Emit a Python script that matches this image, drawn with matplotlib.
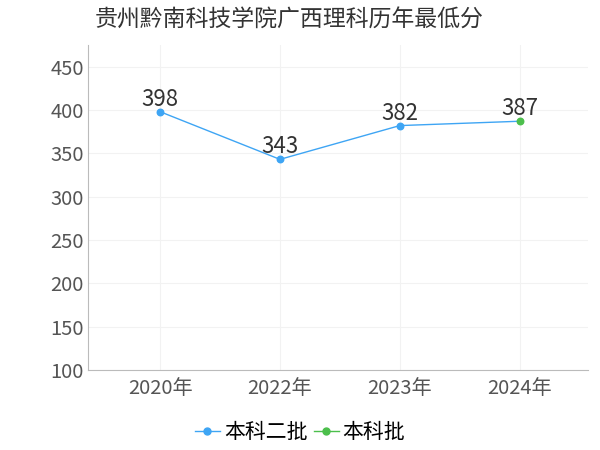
import matplotlib
matplotlib.use("Agg")
import matplotlib.pyplot as plt

plt.rcParams['font.family'] = ['Noto Sans CJK SC', 'DejaVu Sans']

YEARS = ["2020年", "2022年", "2023年", "2024年"]
SCORES = [398, 343, 382, 387]
BATCH = ["本科二批", "本科二批", "本科二批", "本科批"]
COLORS = {"本科二批": "#3ea5f4", "本科批": "#4cbf4c"}

fig = plt.figure(figsize=(6, 4.5), dpi=100)
ax = fig.add_axes([0.147, 0.178, 0.833, 0.722])
x = list(range(len(YEARS)))
ax.plot(x, SCORES, color=COLORS["本科二批"], lw=1, zorder=2)
for xi, s, b in zip(x, SCORES, BATCH):
    ax.scatter(xi, s, color=COLORS[b], s=22, zorder=3)
    ax.text(xi, s + 1, str(s), ha="center", va="bottom", fontsize=16, color="#333333")

ax.set_xlim(-0.6, 3.57)
ax.set_ylim(100, 475)
ax.set_yticks(range(100, 451, 50))
ax.set_xticks(x)
ax.set_xticklabels(YEARS)
ax.tick_params(axis="both", labelsize=14.5, colors="#555555", length=0)
ax.tick_params(axis="x", pad=6)
ax.tick_params(axis="y", pad=3)
ax.grid(True, color="#f2f2f2", lw=0.8)
ax.set_axisbelow(True)
for sp in ["top", "right"]:
    ax.spines[sp].set_visible(False)
for sp in ["left", "bottom"]:
    ax.spines[sp].set_color("#bbbbbb")

fig.text(0.158, 0.955, "贵州黔南科技学院广西理科历年最低分", fontsize=16.5, color="#333333",
         ha="left", va="center")

handles = [plt.Line2D([], [], color=COLORS[k], marker="o", ms=5, lw=1) for k in COLORS]
fig.legend(handles, list(COLORS), loc="center", bbox_to_anchor=(0.5, 0.04), ncol=2,
           frameon=False, fontsize=15, handlelength=1.2, handletextpad=0.2, columnspacing=0.3)

fig.savefig("out.png", dpi=100)
